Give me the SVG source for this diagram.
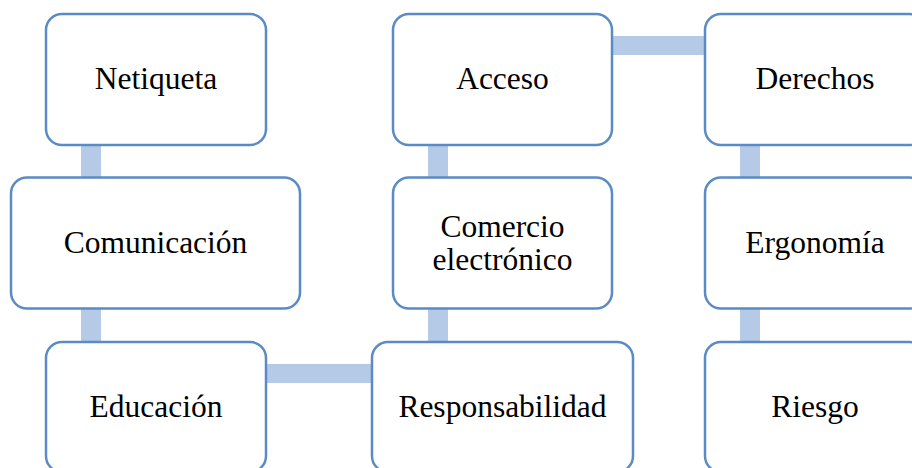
<svg xmlns="http://www.w3.org/2000/svg" width="912" height="468" viewBox="0 0 912 468">
<style>
.box{fill:#fff;stroke:#5B8BC5;stroke-width:2.5}
.bar{fill:#B4CAE7}
text{font-family:"Liberation Serif","Times New Roman",serif;font-size:31.5px;fill:#000;text-anchor:middle}
</style>
<rect width="912" height="468" fill="#fff"/>
<g id="connectors">
<rect class="bar" x="81" y="140" width="20" height="42"/>
<rect class="bar" x="81" y="304" width="20" height="42"/>
<rect class="bar" x="261" y="364" width="115" height="19"/>
<rect class="bar" x="428" y="304" width="20" height="42"/>
<rect class="bar" x="428" y="140" width="20" height="42"/>
<rect class="bar" x="607" y="36" width="102" height="19"/>
<rect class="bar" x="740" y="140" width="20" height="42"/>
<rect class="bar" x="740" y="304" width="20" height="42"/>
</g>
<g id="netiqueta"><rect class="box" x="46" y="14" width="220" height="131" rx="16"/><text x="156" y="89">Netiqueta</text></g>
<g id="comunicacion"><rect class="box" x="11" y="177.5" width="289" height="131" rx="16"/><text x="155.5" y="252.5">Comunicación</text></g>
<g id="educacion"><rect class="box" x="46" y="342" width="220" height="130" rx="16"/><text x="156" y="417">Educación</text></g>
<g id="responsabilidad"><rect class="box" x="372" y="342" width="261" height="130" rx="16"/><text x="502.5" y="417">Responsabilidad</text></g>
<g id="comercio"><rect class="box" x="393" y="177.5" width="219" height="131" rx="16"/><text x="502.5" y="236.5">Comercio</text><text x="502.5" y="270">electrónico</text></g>
<g id="acceso"><rect class="box" x="393" y="14" width="219" height="131" rx="16"/><text x="502.5" y="89">Acceso</text></g>
<g id="derechos"><rect class="box" x="705" y="14" width="220" height="131" rx="16"/><text x="815" y="89">Derechos</text></g>
<g id="ergonomia"><rect class="box" x="705" y="177.5" width="220" height="131" rx="16"/><text x="815" y="252.5">Ergonomía</text></g>
<g id="riesgo"><rect class="box" x="705" y="342" width="220" height="130" rx="16"/><text x="815" y="417">Riesgo</text></g>
</svg>
